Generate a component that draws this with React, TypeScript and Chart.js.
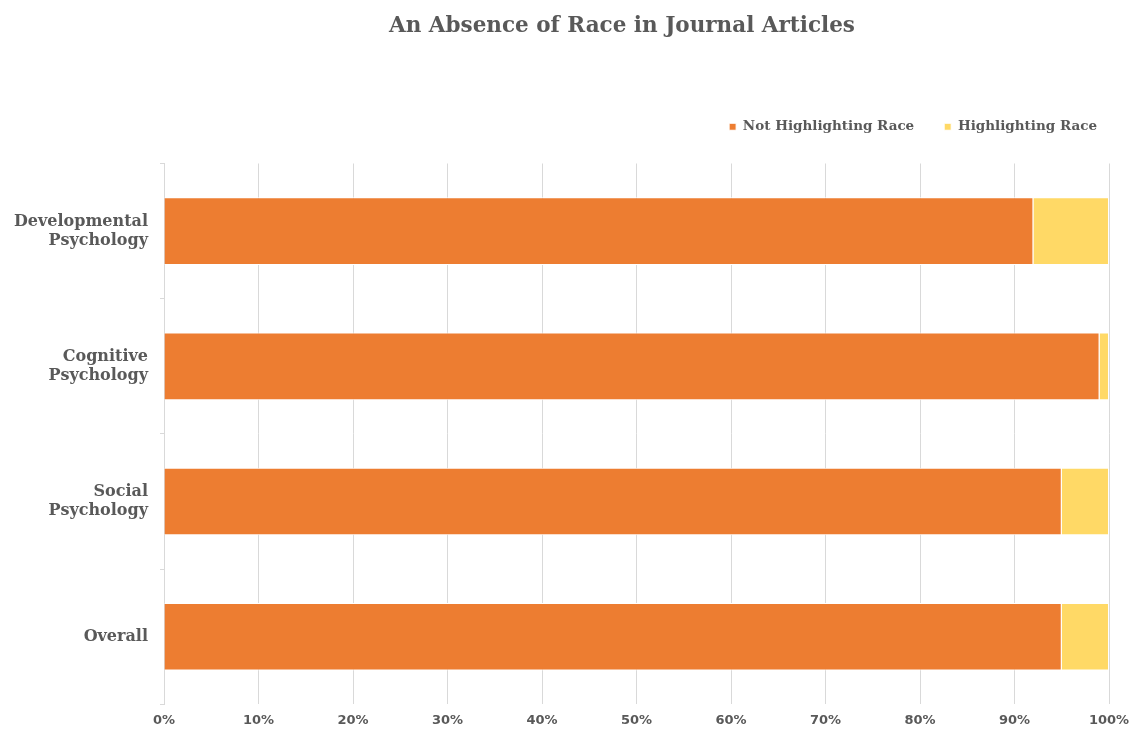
import React, { useEffect, useRef } from "react";
import { Chart, registerables } from "chart.js";

Chart.register(...registerables);

const categories: (string | string[])[] = [
  ["Developmental", "Psychology"],
  ["Cognitive", "Psychology"],
  ["Social", "Psychology"],
  "Overall",
];
const notHighlighting = [92, 99, 95, 95];
const highlighting = [8, 1, 5, 5];
const seriesNames = ["Not Highlighting Race", "Highlighting Race"];
const chartTitle = "An Absence of Race in Journal Articles";

const GRAY = "#595959";
const GRID = "#d9d9d9";

const titlePlugin = {
  id: "customTitle",
  afterLayout(chart: any) {
    const lg = chart.legend;
    if (lg) {
      lg.top -= 20;
      lg.bottom -= 20;
      lg.left += 18;
      lg.right += 18;
    }
  },
  afterDraw(chart: any) {
    const ctx = chart.ctx;
    ctx.save();
    ctx.font = "bold 21.5px 'DejaVu Serif'";
    ctx.fillStyle = GRAY;
    ctx.textAlign = "center";
    ctx.textBaseline = "middle";
    ctx.fillText(chartTitle, 622, 26);
    ctx.restore();
  },
};

export default function App() {
  const ref = useRef<HTMLCanvasElement>(null);
  useEffect(() => {
    document.body.style.margin = "0";
    const chart = new Chart(ref.current!, {
      type: "bar",
      data: {
        labels: categories,
        datasets: [
          {
            label: seriesNames[0],
            data: notHighlighting,
            backgroundColor: "#ED7D31",
            borderColor: "#ffffff",
            borderWidth: 1,
            categoryPercentage: 0.5,
            barPercentage: 1,
          },
          {
            label: seriesNames[1],
            data: highlighting,
            backgroundColor: "#FFD966",
            borderColor: "#ffffff",
            borderWidth: 1,
            categoryPercentage: 0.5,
            barPercentage: 1,
          },
        ],
      },
      options: {
        indexAxis: "y",
        animation: false,
        responsive: false,
        layout: { padding: { top: 110, right: 32, bottom: 0, left: 0 } },
        plugins: {
          title: { display: false },
          tooltip: { enabled: false },
          legend: {
            position: "top",
            align: "end",
            labels: {
              boxWidth: 7,
              boxHeight: 7,
              padding: 30,
              color: GRAY,
              font: { family: "'DejaVu Serif'", size: 13.5, weight: "bold" },
            },
          },
        },
        scales: {
          x: {
            stacked: true,
            min: 0,
            max: 100,
            ticks: {
              stepSize: 10,
              callback: (v: any) => v + "%",
              color: GRAY,
              padding: 8,
              font: { family: "'DejaVu Sans'", size: 13, weight: "bold" },
            },
            grid: { color: GRID, drawTicks: false },
            border: { display: false },
          },
          y: {
            stacked: true,
            afterFit: (scale: any) => {
              scale.width = 164;
            },
            ticks: {
              color: GRAY,
              padding: 12,
              font: { family: "'DejaVu Serif'", size: 16, weight: "bold" },
            },
            grid: {
              drawOnChartArea: false,
              drawTicks: true,
              tickLength: 4,
              color: GRID,
            },
            border: { display: true, color: GRID },
          },
        },
      },
      plugins: [titlePlugin],
    } as any);
    return () => chart.destroy();
  }, []);
  return (
    <div style={{ width: 1141, height: 736 }}>
      <canvas ref={ref} width={1141} height={736} />
    </div>
  );
}
